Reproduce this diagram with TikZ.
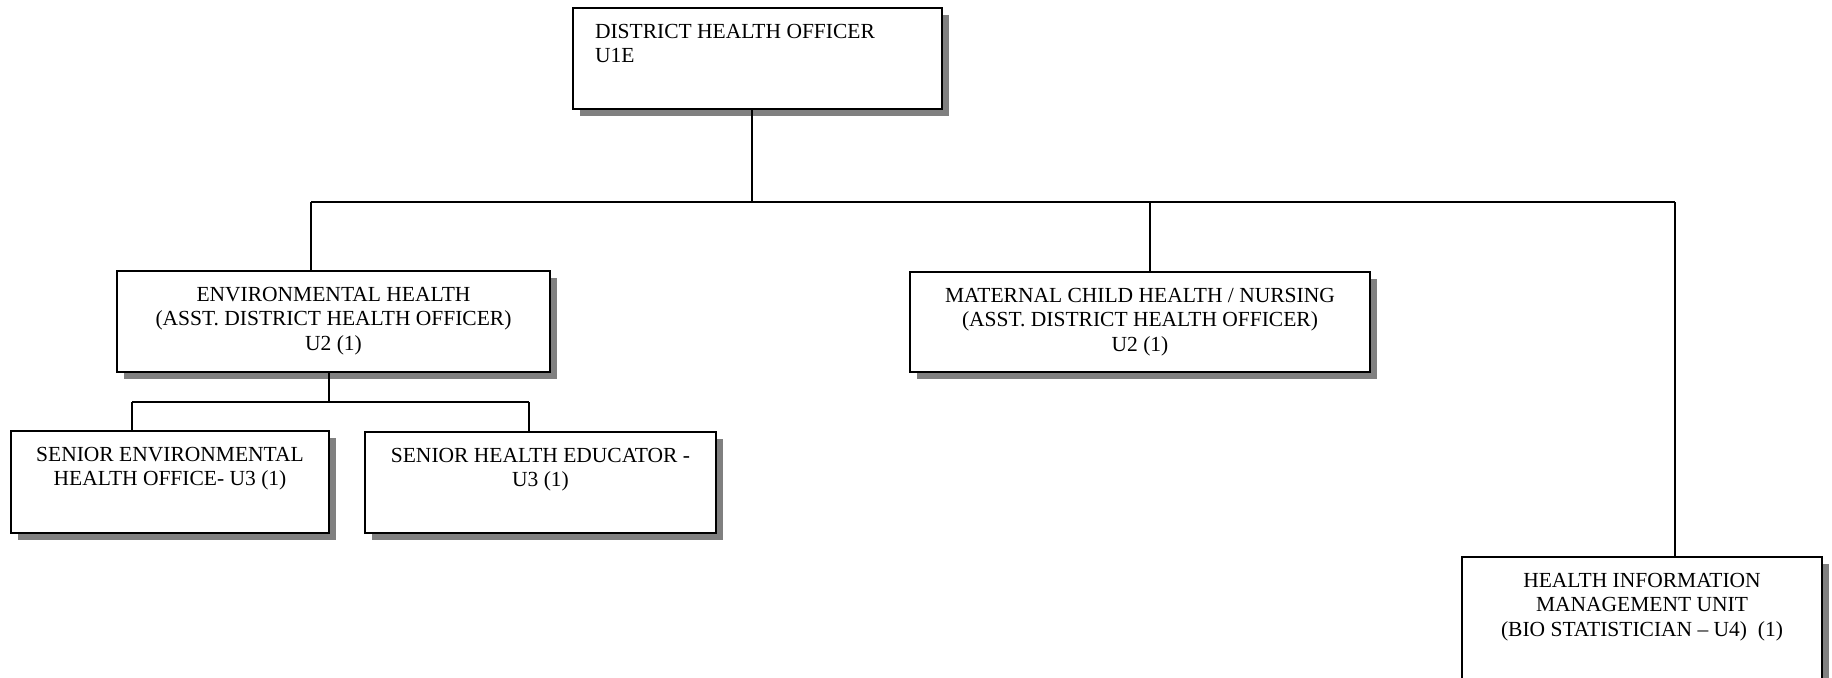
\documentclass[tikz,border=0pt]{standalone}
\usepackage{fontspec}
\setmainfont{Liberation Serif}
\usetikzlibrary{shadows}
\newcommand{\bx}[4]{\parbox[c][#2][t]{#1}{#3\rule{0pt}{15pt}#4}}
\tikzset{
  orgbox/.style={draw=black, line width=1.25pt, fill=white, inner sep=0pt,
    font=\fontsize{10.75pt}{12.4pt}\selectfont,
    drop shadow={shadow xshift=3.5pt, shadow yshift=-3.5pt, fill=black!50, opacity=1}},
  conn/.style={draw=black, line width=0.8pt}
}
\begin{document}
\begin{tikzpicture}[x=0.5pt,y=-0.5pt]
\useasboundingbox[fill=white] (0,0) rectangle (1832,677);

\node[orgbox] (dho) at (757.5,58.5) {\bx{184.5pt}{50.5pt}{\raggedright\hspace*{11pt}}{DISTRICT HEALTH OFFICER\\\hspace*{11pt}U1E}};
\node[orgbox] (env) at (333.5,321.5) {\bx{216.5pt}{50.5pt}{\centering}{ENVIRONMENTAL HEALTH\\(ASST. DISTRICT HEALTH OFFICER)\\U2 (1)}};
\node[orgbox] (mat) at (1140,322) {\bx{230pt}{50pt}{\centering}{MATERNAL CHILD HEALTH / NURSING\\(ASST. DISTRICT HEALTH OFFICER)\\U2 (1)}};
\node[orgbox] (sub1) at (170,482) {\bx{159pt}{51pt}{\centering}{SENIOR ENVIRONMENTAL\\HEALTH OFFICE- U3 (1)}};
\node[orgbox] (sub2) at (540.5,482.5) {\bx{175.5pt}{50.5pt}{\centering}{SENIOR HEALTH EDUCATOR -\\U3 (1)}};
\node[orgbox] (him) at (1642,627) {\bx{180pt}{70pt}{\centering}{HEALTH INFORMATION\\MANAGEMENT UNIT\\(BIO STATISTICIAN \textendash{} U4)\ \ (1)}};

\coordinate (b0) at (752,202);
\coordinate (bl) at (311,202);
\coordinate (bm) at (1150,202);
\coordinate (br) at (1675,202);
\coordinate (s0) at (329,402);
\coordinate (sl) at (132,402);
\coordinate (sr) at (529,402);

\draw[conn] (dho.south -| b0) -- (b0);
\draw[conn] (bl) -- (br);
\draw[conn] (bl) -- (bl |- env.north);
\draw[conn] (bm) -- (bm |- mat.north);
\draw[conn] (br) -- (br |- him.north);
\draw[conn] (env.south -| s0) -- (s0);
\draw[conn] (sl) -- (sr);
\draw[conn] (sl) -- (sl |- sub1.north);
\draw[conn] (sr) -- (sr |- sub2.north);
\end{tikzpicture}
\end{document}
